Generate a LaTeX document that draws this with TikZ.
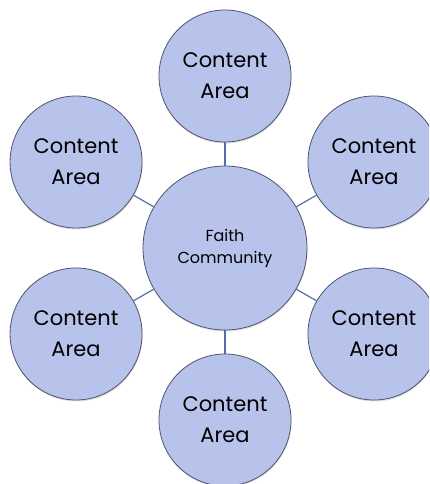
\documentclass[tikz,border=0pt]{standalone}
\usepackage{fontspec}
\setmainfont{Poppins}
\usetikzlibrary{calc,shadows}
\definecolor{areafill}{RGB}{184,195,236}
\definecolor{areaborder}{RGB}{78,84,112}
\definecolor{spokeblue}{RGB}{84,110,168}

\begin{document}
\begin{tikzpicture}[x=1pt,y=1pt,
    area/.style={circle, draw=areaborder, line width=0.8pt, fill=areafill,
      minimum size=132pt, inner sep=0pt, align=center,
      font=\fontsize{21}{31}\selectfont,
      drop shadow={opacity=0.25, shadow xshift=0.5pt, shadow yshift=-1.5pt}},
    hub/.style={area, minimum size=164pt, font=\fontsize{16}{22}\selectfont},
    spoke/.style={draw=spokeblue, line width=1.2pt}]
    \def\dist{172}
    \useasboundingbox (0,0) rectangle (429,484);
    \clip (0,0) rectangle (429,484);

    % Hub
    \node[hub] (hub) at (225,236) {Faith\\Community};

    % Content areas round the hub
    \foreach \i in {0,...,5} {
        \node[area] (area\i) at ($(hub)+(90+60*\i:\dist)$) {Content\\Area};
        \draw[spoke] (hub) -- (area\i);
    }

\end{tikzpicture}
\end{document}
